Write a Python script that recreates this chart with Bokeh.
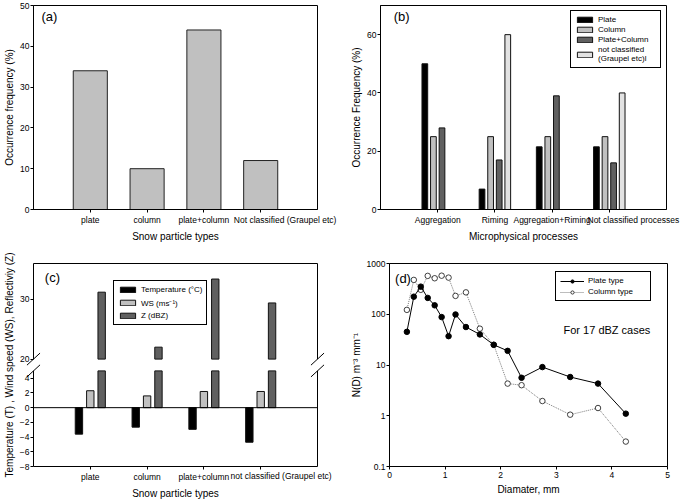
from bokeh.plotting import figure
from bokeh.layouts import column, row
from bokeh.models import FixedTicker, Label, Legend, LegendItem, Span, Range1d
from bokeh.core.properties import value
from bokeh.embed import file_html
from bokeh.resources import INLINE

FONT = "Liberation Sans"

# ---------------- data ----------------
# (a) occurrence frequency of snow particle types
a_types = ["plate", "column", "plate+column", "Not classified (Graupel etc)"]
a_freq = [34, 10, 44, 12]

# (b) occurrence frequency by microphysical process
b_processes = ["Aggregation", "Riming", "Aggregation+Riming", "Not classified processes"]
b_series = ["Plate", "Column", "Plate+Column", "not classified\n(Graupel etc)l"]
b_plate = [50, 7, 21.5, 21.5]
b_column = [25, 25, 25, 25]
b_platecol = [28, 17, 39, 16]
b_notcls = [0, 60, 0, 40]

# (c) temperature, wind speed, reflectivity per particle type
c_types = ["plate", "column", "plate+column", "not classified (Graupel etc)"]
c_temp = [-3.6, -2.65, -2.95, -4.7]
c_ws = [2.3, 1.6, 2.2, 2.2]
c_z = [31.2, 22.0, 33.4, 29.4]

# (d) size distributions
d_diam = [0.3125, 0.4375, 0.5625, 0.6875, 0.8125, 0.9375, 1.0625, 1.1875,
          1.375, 1.625, 1.875, 2.125, 2.375, 2.75, 3.25, 3.75, 4.25]
d_plate = [45, 222, 350, 210, 150, 88, 37, 99, 56, 40, 25, 19, 5.6, 9.1, 5.8, 4.3, 1.1]
d_column = [122, 475, 303, 570, 512, 575, 527, 230, 270, 52, 25, 4.3, 4.0, 1.95, 1.05, 1.42, 0.31]

# ---------------- helpers ----------------
TOP_H, BOT_H = 250, 252
LEFT_W, RIGHT_W = 340, 343


def style(p, outline=True):
    p.background_fill_color = "white"
    p.border_fill_color = "white"
    p.outline_line_color = "black" if outline else None
    p.outline_line_width = 1
    p.outline_line_alpha = 1
    p.xgrid.visible = False
    p.ygrid.visible = False
    for ax in p.axis:
        ax.axis_line_color = "black"
        ax.major_tick_line_color = "black"
        ax.major_tick_out = 3
        ax.major_tick_in = 0
        ax.minor_tick_line_color = None
        ax.major_label_text_font = FONT
        ax.major_label_text_font_size = "8.5px"
        ax.major_label_text_color = "black"
        ax.axis_label_text_font = FONT
        ax.axis_label_text_font_size = "10px"
        ax.axis_label_text_font_style = "normal"
        ax.axis_label_text_color = "black"
    p.xaxis.major_label_standoff = 2
    p.xaxis.axis_label_standoff = 3
    p.yaxis.major_label_standoff = 1
    p.yaxis.axis_label_standoff = 2


def label(p, x, y, text, size="13px"):
    p.add_layout(Label(x=x, y=y, text=text, text_font=FONT, text_font_size=size,
                       text_color="black", text_align="left", text_baseline="middle"))


def cat_text(p, x, y, text):
    # category label that sits below the frame, shifted like the original
    p.text(x=[x], y=[y], text=[text], level="overlay", text_align="center",
           text_baseline="top", text_font=value(FONT), text_font_size=value("8.5px"),
           text_color="black")


def below_y(px, ymin, ymax, frame_h):
    return ymin - px * (ymax - ymin) / frame_h


def make_legend(items, location, gw=19, gh=7, spacing=1, lw=20):
    return Legend(items=items, location=location, orientation="vertical",
                  border_line_color="black", border_line_width=1, border_line_alpha=1,
                  background_fill_color="white", background_fill_alpha=1,
                  padding=4, margin=0, spacing=spacing, label_standoff=4,
                  glyph_width=gw, glyph_height=gh, label_height=9, label_width=lw,
                  label_text_font=FONT, label_text_font_size="8px",
                  label_text_color="black")


LABEL_GAP = 5  # tick length + label standoff (px)

# ---------------- (a) ----------------
a_top, a_bot, a_left, a_right = 5, 41, 33, 23
pa = figure(width=LEFT_W, height=TOP_H, x_range=Range1d(0, 5), y_range=Range1d(0, 50),
            output_backend="svg", toolbar_location=None,
            min_border_left=a_left, min_border_right=a_right,
            min_border_top=a_top, min_border_bottom=a_bot)
pos_a = [i + 1 for i in range(len(a_types))]
pa.vbar(x=pos_a, top=a_freq, bottom=0, width=0.6, fill_color="#c0c0c0",
        line_color="#222222", line_width=1)
style(pa)
pa.xaxis.ticker = FixedTicker(ticks=pos_a)
pa.xaxis.major_label_overrides = {pos_a[i]: (a_types[i] if i < 3 else "") for i in range(4)}
pa.yaxis.ticker = FixedTicker(ticks=[0, 10, 20, 30, 40, 50])
pa.xaxis.axis_label = "Snow particle types"
pa.yaxis.axis_label = "Occurrence frequency (%)"
fa = TOP_H - a_top - a_bot
cat_text(pa, 4.43, below_y(LABEL_GAP, 0, 50, fa), a_types[3])
label(pa, 0.14, 47.3, "(a)")

# ---------------- (b) ----------------
b_top, b_bot, b_left, b_right = 5, 41, 40, 17
pb = figure(width=RIGHT_W, height=TOP_H, x_range=Range1d(0, 5), y_range=Range1d(0, 70),
            output_backend="svg", toolbar_location=None,
            min_border_left=b_left, min_border_right=b_right,
            min_border_top=b_top, min_border_bottom=b_bot)
pos_b = [i + 1 for i in range(len(b_processes))]
b_vals = [b_plate, b_column, b_platecol, b_notcls]
b_colors = ["#000000", "#c0c0c0", "#606060", "#e2e2e2"]
b_off = [-0.225, -0.075, 0.075, 0.225]
b_rends = []
for vals, col, off in zip(b_vals, b_colors, b_off):
    r = pb.vbar(x=[x + off for x in pos_b], top=vals, bottom=0, width=0.1,
                fill_color=col, line_color="#111111", line_width=1)
    b_rends.append(r)
style(pb)
pb.xaxis.ticker = FixedTicker(ticks=pos_b)
pb.xaxis.major_label_overrides = {pos_b[i]: (b_processes[i] if i < 3 else "") for i in range(4)}
pb.yaxis.ticker = FixedTicker(ticks=[0, 20, 40, 60])
pb.xaxis.axis_label = "Microphysical processes"
pb.yaxis.axis_label = "Occurrence Frequency (%)"
fb = TOP_H - b_top - b_bot
cat_text(pb, 4.42, below_y(LABEL_GAP, 0, 70, fb), b_processes[3])
label(pb, 0.23, 66.3, "(b)")
leg_b = make_legend([LegendItem(label=s, renderers=[r]) for s, r in zip(b_series, b_rends)],
                    "top_right", lw=58)
leg_b.margin = 5
pb.add_layout(leg_b)

# ---------------- (c) ----------------
LOW_MIN, LOW_MAX, HIGH_MIN, HIGH_MAX = -8, 5, 20, 36
GAP = 1.6
HIGH_SCALE = 0.8125


def c_pos(v):
    return v if v <= LOW_MAX else LOW_MAX + GAP + (v - HIGH_MIN) * HIGH_SCALE


c_top, c_bot, c_left, c_right = 13, 35, 32, 23
c_ymax = c_pos(HIGH_MAX)
pc = figure(width=LEFT_W, height=BOT_H, x_range=Range1d(0, 5), y_range=Range1d(LOW_MIN, c_ymax),
            output_backend="svg", toolbar_location=None,
            min_border_left=c_left, min_border_right=c_right,
            min_border_top=c_top, min_border_bottom=c_bot)
pos_c = [i + 1 for i in range(len(c_types))]
r_t = pc.vbar(x=[x - 0.2 for x in pos_c], top=c_temp, bottom=0, width=0.13,
              fill_color="#000000", line_color="#111111", line_width=1)
r_ws = pc.vbar(x=pos_c, top=c_ws, bottom=0, width=0.13,
               fill_color="#c0c0c0", line_color="#111111", line_width=1)
r_zl = pc.vbar(x=[x + 0.2 for x in pos_c], top=[c_pos(min(z, LOW_MAX)) for z in c_z], bottom=0,
               width=0.13, fill_color="#606060", line_color="#111111", line_width=1)
r_zh = pc.vbar(x=[x + 0.2 for x in pos_c], top=[c_pos(z) for z in c_z],
               bottom=[c_pos(HIGH_MIN)] * len(c_z),
               width=0.13, fill_color="#606060", line_color="#111111", line_width=1)
pc.add_layout(Span(location=0, dimension="width", line_color="black", line_width=1))
style(pc, outline=False)
pc.yaxis.axis_line_color = None
c_ticks = [-8, -6, -4, -2, 0, 2, 4, c_pos(20), c_pos(30)]
pc.yaxis.ticker = FixedTicker(ticks=c_ticks)
pc.yaxis.major_label_overrides = {c_pos(20): "20", c_pos(30): "30"}
pc.xaxis.ticker = FixedTicker(ticks=pos_c)
pc.xaxis.major_label_overrides = {pos_c[i]: (c_types[i] if i < 3 else "") for i in range(4)}
pc.xaxis.axis_label = "Snow particle types"
pc.yaxis.axis_label = "Temperature (T) , Wind speed (WS), Reflectiviy (Z)"
# broken frame: sides, top and break marks
lo_top = c_pos(LOW_MAX)
hi_bot = c_pos(HIGH_MIN)
bx0 = [0, 0, 5, 5, 0]
by0 = [LOW_MIN, hi_bot, LOW_MIN, hi_bot, c_ymax]
bx1 = [0, 0, 5, 5, 5]
by1 = [lo_top, c_ymax, lo_top, c_ymax, c_ymax]
dx, dy = 0.115, 0.82
for xe in (0, 5):
    for yc in (lo_top, hi_bot):
        bx0.append(xe - dx); by0.append(yc - dy)
        bx1.append(xe + dx); by1.append(yc + dy)
pc.segment(x0=bx0, y0=by0, x1=bx1, y1=by1, line_color="black", line_width=1, level="overlay")
fc = BOT_H - c_top - c_bot
cat_text(pc, 4.36, below_y(LABEL_GAP, LOW_MIN, c_ymax, fc), c_types[3])
label(pc, 0.2, c_ymax - 14 * (c_ymax - LOW_MIN) / fc, "(c)")
leg_c = make_legend([LegendItem(label="Temperature (°C)", renderers=[r_t]),
                     LegendItem(label="WS (ms⁻¹)", renderers=[r_ws]),
                     LegendItem(label="Z (dBZ)", renderers=[r_zl])],
                    (80, 141), spacing=3, lw=60)
pc.add_layout(leg_c)

# ---------------- (d) ----------------
d_top, d_bot, d_left, d_right = 13, 36, 49, 16
pd_ = figure(width=RIGHT_W, height=BOT_H, x_range=Range1d(0, 5), y_range=Range1d(0.1, 1000),
             y_axis_type="log", output_backend="svg", toolbar_location=None,
             min_border_left=d_left, min_border_right=d_right,
             min_border_top=d_top, min_border_bottom=d_bot)
rc_l = pd_.line(d_diam, d_column, line_color="#7a7a7a", line_width=1, line_dash="1 1")
rc_p = pd_.scatter(d_diam, d_column, size=5.5, marker="circle", fill_color="white",
                   line_color="#111111", line_width=0.8)
rp_l = pd_.line(d_diam, d_plate, line_color="black", line_width=1)
rp_p = pd_.scatter(d_diam, d_plate, size=5.5, marker="circle", fill_color="black", line_color="black")
style(pd_)
pd_.xaxis.ticker = FixedTicker(ticks=[0, 1, 2, 3, 4, 5])
pd_.yaxis.ticker = FixedTicker(ticks=[0.1, 1, 10, 100, 1000])
pd_.yaxis.major_label_overrides = {0.1: "0.1", 1: "1", 10: "10", 100: "100", 1000: "1000"}
pd_.xaxis.axis_label = "Diamater, mm"
pd_.yaxis.axis_label = "N(D) m⁻³ mm⁻¹"
label(pd_, 0.1, 500, "(d)")
label(pd_, 3.13, 48, "For 17 dBZ cases", size="11px")
leg_d = make_legend([LegendItem(label="Plate type", renderers=[rp_l, rp_p]),
                     LegendItem(label="Column type", renderers=[rc_l, rc_p])],
                    (166, 165), gw=24, gh=8, spacing=2, lw=58)
pd_.add_layout(leg_d)

layout = column(row(pa, pb), row(pc, pd_))
open("out.html", "w").write(file_html(layout, INLINE))
